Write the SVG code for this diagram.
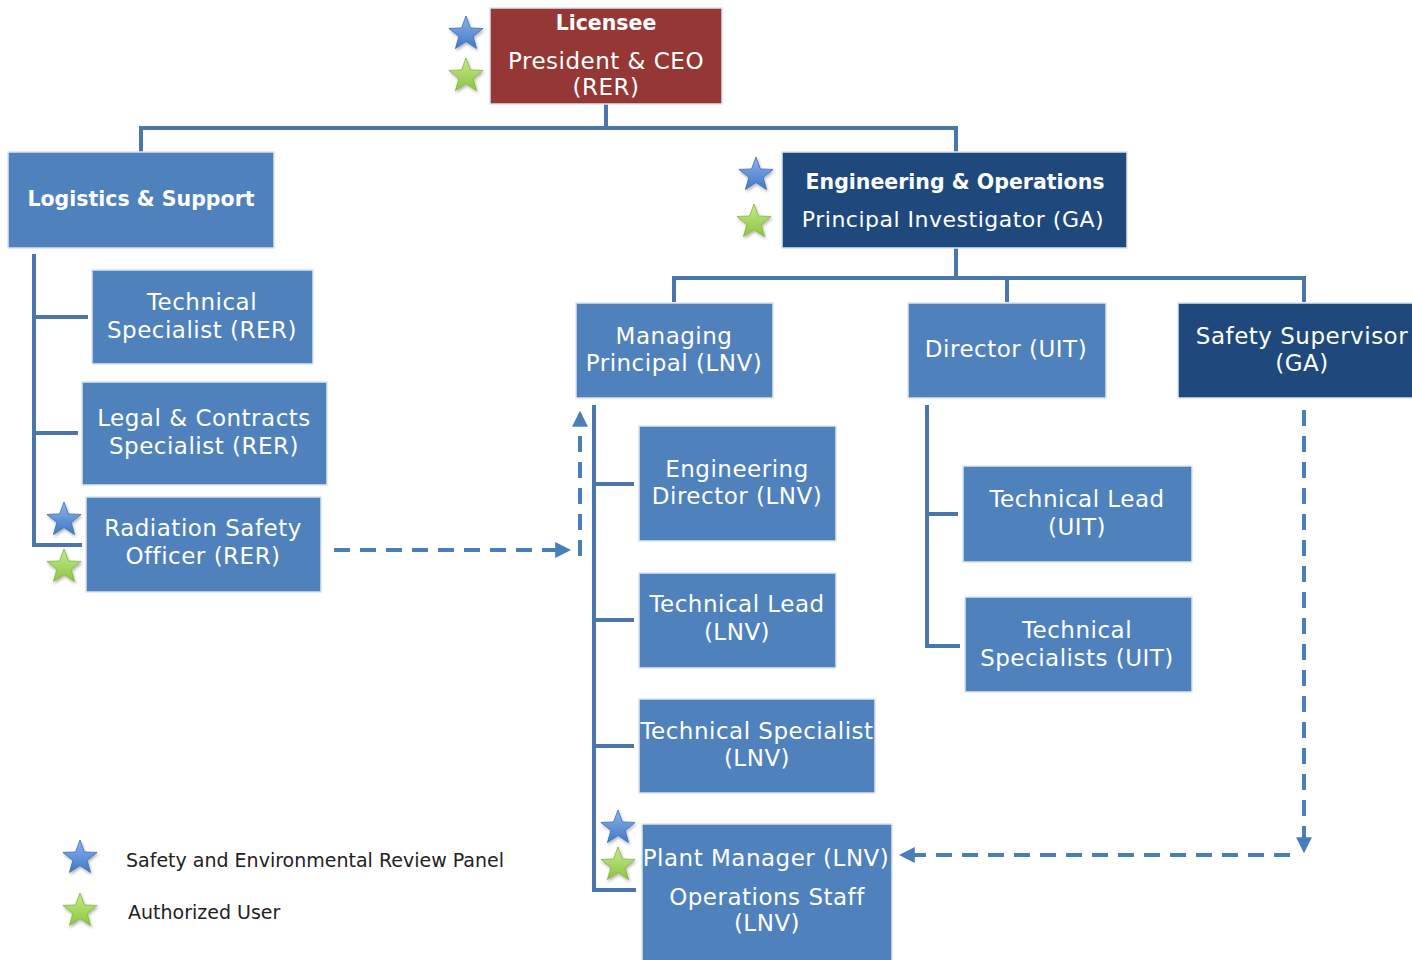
<svg xmlns="http://www.w3.org/2000/svg" xmlns:xlink="http://www.w3.org/1999/xlink" width="1412" height="960" viewBox="0 0 1412 960">
<defs>
<style>
.box{stroke:#dbe5f1;stroke-width:1.5}
.mid{fill:#4f81bd}
.dark{fill:#1f497d}
.red{fill:#953735}
.t{font-family:"DejaVu Sans","Liberation Sans",sans-serif;fill:#fff;text-anchor:middle;font-size:23px;letter-spacing:0.5px}
.b{font-weight:bold;font-size:20.5px;letter-spacing:0}
.ln{fill:none;stroke:#4a76ab;stroke-width:4}
.ds{fill:none;stroke:#4a7ebb;stroke-width:4;stroke-dasharray:16 10}
.lg{font-family:"DejaVu Sans","Liberation Sans",sans-serif;fill:#222;font-size:19px}
</style>
<linearGradient id="gb" x1="0" y1="0" x2="0" y2="1"><stop offset="0" stop-color="#8db3e8"/><stop offset="1" stop-color="#3f78c8"/></linearGradient>
<linearGradient id="gg" x1="0" y1="0" x2="0" y2="1"><stop offset="0" stop-color="#c5ea8e"/><stop offset="1" stop-color="#8cc63f"/></linearGradient>
<filter id="sh" x="-30%" y="-30%" width="160%" height="160%"><feDropShadow dx="1" dy="2" stdDeviation="1.5" flood-color="#000" flood-opacity="0.3"/></filter>
<path id="star" d="M0,-18 L4.41,-6.07 L17.12,-5.56 L7.13,2.32 L10.58,14.56 L0,7.5 L-10.58,14.56 L-7.13,2.32 L-17.12,-5.56 L-4.41,-6.07 Z"/>
<marker id="ah" viewBox="0 0 10 10" refX="8" refY="5" markerWidth="4" markerHeight="4" orient="auto" markerUnits="strokeWidth"><path d="M0,0 L10,5 L0,10 Z" fill="#4a7ebb"/></marker>
</defs>
<rect width="1412" height="960" fill="#fff"/>

<g id="connectors">
<path class="ln" d="M606,104 V128 M141,152 V128 H956 V152"/>
<path class="ln" d="M956,248 V278 M674,302 V278 H1304 V302 M1007,278 V302"/>
<path class="ln" d="M34,254 V545 H82 M34,317 H88 M34,433 H78"/>
<path class="ln" d="M594,405 V890 H636 M594,484 H634 M594,620 H634 M594,746 H634"/>
<path class="ln" d="M927,405 V646 H960 M927,514 H958"/>
<path class="ds" d="M334,550 H568" marker-end="url(#ah)"/>
<path class="ds" d="M580,556 V414" marker-end="url(#ah)"/>
<path class="ds" d="M1304,410 V850" marker-end="url(#ah)"/>
<path class="ds" d="M1290,855 H902" marker-end="url(#ah)"/>
</g>

<g id="licensee">
<rect class="box red" x="490" y="8" width="232" height="96"/>
<text class="t b" x="606" y="30">Licensee</text>
<text class="t" x="606" y="69">President &amp; CEO</text>
<text class="t" x="606" y="95">(RER)</text>
<use href="#star" x="466" y="34" fill="url(#gb)" stroke="#3a6cb5" stroke-width="0.8" filter="url(#sh)"/>
<use href="#star" x="466" y="76" fill="url(#gg)" stroke="#7fb23a" stroke-width="0.8" filter="url(#sh)"/>
</g>

<g id="logistics">
<rect class="box mid" x="8" y="152" width="266" height="96"/>
<text class="t b" x="141" y="206">Logistics &amp; Support</text>
</g>

<g id="tech-spec-rer">
<rect class="box mid" x="92" y="270" width="221" height="94"/>
<text class="t" x="202" y="310">Technical</text>
<text class="t" x="202" y="338">Specialist (RER)</text>
</g>

<g id="legal">
<rect class="box mid" x="82" y="382" width="245" height="103"/>
<text class="t" x="204" y="426">Legal &amp; Contracts</text>
<text class="t" x="204" y="454">Specialist (RER)</text>
</g>

<g id="rso">
<rect class="box mid" x="86" y="497" width="235" height="95"/>
<text class="t" x="203" y="536">Radiation Safety</text>
<text class="t" x="203" y="564">Officer (RER)</text>
<use href="#star" x="64" y="520" fill="url(#gb)" stroke="#3a6cb5" stroke-width="0.8" filter="url(#sh)"/>
<use href="#star" x="64" y="567" fill="url(#gg)" stroke="#7fb23a" stroke-width="0.8" filter="url(#sh)"/>
</g>

<g id="eng-ops">
<rect class="box dark" x="782" y="152" width="345" height="96"/>
<text class="t b" x="955" y="189">Engineering &amp; Operations</text>
<text class="t" x="953" y="227" style="font-size:22px">Principal Investigator (GA)</text>
<use href="#star" x="756" y="175" fill="url(#gb)" stroke="#3a6cb5" stroke-width="0.8" filter="url(#sh)"/>
<use href="#star" x="754" y="222" fill="url(#gg)" stroke="#7fb23a" stroke-width="0.8" filter="url(#sh)"/>
</g>

<g id="managing-principal">
<rect class="box mid" x="576" y="303" width="197" height="95"/>
<text class="t" x="674" y="344">Managing</text>
<text class="t" x="674" y="371">Principal (LNV)</text>
</g>

<g id="director-uit">
<rect class="box mid" x="908" y="303" width="198" height="95"/>
<text class="t" x="1006" y="357">Director (UIT)</text>
</g>

<g id="safety-supervisor">
<rect class="box dark" x="1178" y="303" width="236" height="95"/>
<text class="t" x="1302" y="344">Safety Supervisor</text>
<text class="t" x="1302" y="371">(GA)</text>
</g>

<g id="eng-director">
<rect class="box mid" x="639" y="426" width="197" height="115"/>
<text class="t" x="737" y="477">Engineering</text>
<text class="t" x="737" y="504">Director (LNV)</text>
</g>

<g id="tech-lead-lnv">
<rect class="box mid" x="639" y="573" width="197" height="95"/>
<text class="t" x="737" y="612">Technical Lead</text>
<text class="t" x="737" y="640">(LNV)</text>
</g>

<g id="tech-spec-lnv">
<rect class="box mid" x="639" y="699" width="236" height="94"/>
<text class="t" x="757" y="739">Technical Specialist</text>
<text class="t" x="757" y="766">(LNV)</text>
</g>

<g id="plant-manager">
<rect class="box mid" x="642" y="824" width="250" height="140"/>
<text class="t" x="766" y="866">Plant Manager (LNV)</text>
<text class="t" x="767" y="905">Operations Staff</text>
<text class="t" x="767" y="931">(LNV)</text>
<use href="#star" x="618" y="828" fill="url(#gb)" stroke="#3a6cb5" stroke-width="0.8" filter="url(#sh)"/>
<use href="#star" x="618" y="865" fill="url(#gg)" stroke="#7fb23a" stroke-width="0.8" filter="url(#sh)"/>
</g>

<g id="tech-lead-uit">
<rect class="box mid" x="963" y="466" width="229" height="96"/>
<text class="t" x="1077" y="507">Technical Lead</text>
<text class="t" x="1077" y="535">(UIT)</text>
</g>

<g id="tech-specs-uit">
<rect class="box mid" x="965" y="597" width="227" height="95"/>
<text class="t" x="1077" y="638">Technical</text>
<text class="t" x="1077" y="666">Specialists (UIT)</text>
</g>

<g id="legend">
<use href="#star" x="80" y="858" fill="url(#gb)" stroke="#3a6cb5" stroke-width="0.8" filter="url(#sh)"/>
<text class="lg" x="126" y="867">Safety and Environmental Review Panel</text>
<use href="#star" x="80" y="911" fill="url(#gg)" stroke="#7fb23a" stroke-width="0.8" filter="url(#sh)"/>
<text class="lg" x="128" y="919">Authorized User</text>
</g>
</svg>
